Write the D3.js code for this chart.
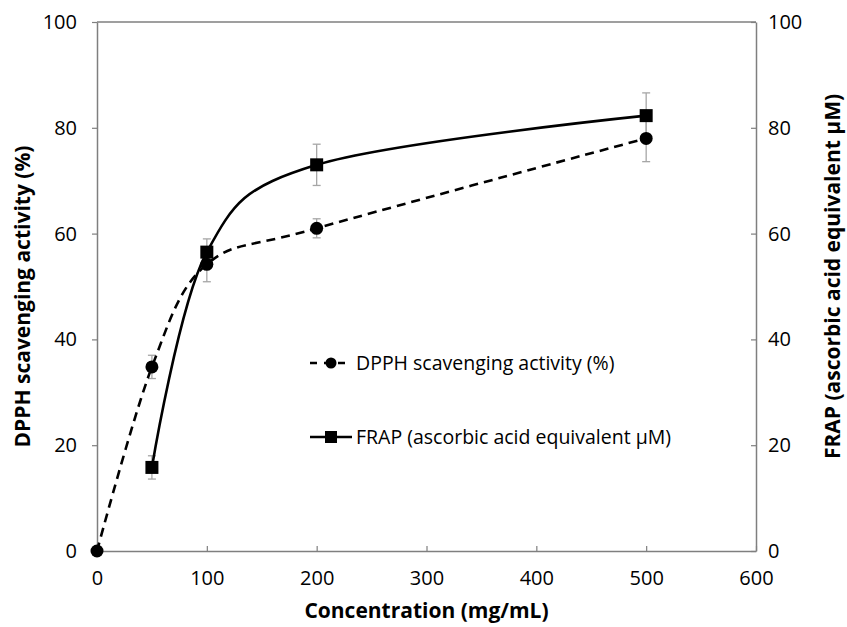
<!DOCTYPE html>
<html>
<head>
<meta charset="utf-8">
<script src="https://cdn.jsdelivr.net/npm/d3@7"></script>
<style>
  body { margin: 0; background: #fff; }
  text { font-family: "Open Sans", "Noto Sans", sans-serif; }
</style>
</head>
<body>
<div id="chart"></div>
<script>
// Concentrations (mg/mL)
const dpphConc = [0, 50, 100, 200, 500];
const dpphValues = [0, 34.8, 54.2, 61, 78];
const dpphErr = [0, 2.2, 3.3, 1.8, 4.4];

const frapConc = [50, 100, 200, 500];
const frapValues = [15.8, 56.5, 73, 82.3];
const frapErr = [2.2, 2.5, 3.9, 4.3];

const xTicks = [0, 100, 200, 300, 400, 500, 600];
const yTicks = [0, 20, 40, 60, 80, 100];

const svgWidth = 847, svgHeight = 627;
const margin = { top: 22, right: 91, bottom: 76, left: 97 };
const width = svgWidth - margin.left - margin.right;
const height = svgHeight - margin.top - margin.bottom;

const svg = d3.select("#chart")
  .append("svg")
  .attr("width", svgWidth)
  .attr("height", svgHeight);

const g = svg.append("g")
  .attr("transform", `translate(${margin.left},${margin.top})`);

const x = d3.scaleLinear().domain([0, 600]).range([0, width]);
const yLeft = d3.scaleLinear().domain([0, 100]).range([height, 0]);
const yRight = d3.scaleLinear().domain([0, 100]).range([height, 0]);

const axisColor = "#7f7f7f";

// top border of plot area
g.append("line")
  .attr("x1", 0).attr("x2", width)
  .attr("y1", 0).attr("y2", 0)
  .attr("stroke", axisColor).attr("stroke-width", 1.5);

// Axes
const xAxis = g.append("g")
  .attr("transform", `translate(0,${height})`)
  .call(d3.axisBottom(x).tickValues(xTicks).tickSizeInner(-5).tickSizeOuter(0).tickPadding(18));

const leftAxis = g.append("g")
  .call(d3.axisLeft(yLeft).tickValues(yTicks).tickSizeInner(5).tickSizeOuter(0).tickPadding(15));

const rightAxis = g.append("g")
  .attr("transform", `translate(${width},0)`)
  .call(d3.axisRight(yRight).tickValues(yTicks).tickSizeInner(-5).tickSizeOuter(0).tickPadding(12));

[xAxis, leftAxis, rightAxis].forEach(a => {
  a.select(".domain").attr("stroke", axisColor).attr("stroke-width", 1.5);
  a.selectAll(".tick line").attr("stroke", axisColor).attr("stroke-width", 1.2);
  a.selectAll(".tick text")
    .attr("fill", "#000")
    .style("font-size", "20px")
    .style("font-family", "'Open Sans', sans-serif");
});
xAxis.selectAll(".tick text").attr("dy", "0.8em");

// Curves (smoothed like the spreadsheet's smooth line)
const lineLeft = d3.line()
  .x(d => x(d[0]))
  .y(d => yLeft(d[1]))
  .curve(d3.curveCardinal.tension(0));

const lineRight = d3.line()
  .x(d => x(d[0]))
  .y(d => yRight(d[1]))
  .curve(d3.curveCardinal.tension(0));

const dpphData = dpphConc.map((c, i) => [c, dpphValues[i], dpphErr[i]]);
const frapData = frapConc.map((c, i) => [c, frapValues[i], frapErr[i]]);

// Error bars
function errorBars(data, scale) {
  const eb = g.append("g");
  data.filter(d => d[2] > 0).forEach(d => {
    const cx = x(d[0]);
    const y1 = scale(d[1] - d[2]);
    const y2 = scale(d[1] + d[2]);
    eb.append("line").attr("x1", cx).attr("x2", cx).attr("y1", y1).attr("y2", y2)
      .attr("stroke", "#a6a6a6").attr("stroke-width", 1.3);
    [y1, y2].forEach(yy => {
      eb.append("line").attr("x1", cx - 4).attr("x2", cx + 4).attr("y1", yy).attr("y2", yy)
        .attr("stroke", "#a6a6a6").attr("stroke-width", 1.3);
    });
  });
}
errorBars(dpphData, yLeft);
errorBars(frapData, yRight);

g.append("path")
  .datum(dpphData)
  .attr("d", lineLeft)
  .attr("fill", "none")
  .attr("stroke", "#000")
  .attr("stroke-width", 2.6)
  .attr("stroke-dasharray", "9,6");

g.append("path")
  .datum(frapData)
  .attr("d", lineRight)
  .attr("fill", "none")
  .attr("stroke", "#000")
  .attr("stroke-width", 2.6);

// Markers
g.selectAll(".dpph-pt")
  .data(dpphData)
  .enter()
  .append("circle")
  .attr("class", "dpph-pt")
  .attr("cx", d => x(d[0]))
  .attr("cy", d => yLeft(d[1]))
  .attr("r", 6.5)
  .attr("fill", "#000");

g.selectAll(".frap-pt")
  .data(frapData)
  .enter()
  .append("rect")
  .attr("class", "frap-pt")
  .attr("x", d => x(d[0]) - 6.5)
  .attr("y", d => yRight(d[1]) - 6.5)
  .attr("width", 13)
  .attr("height", 13)
  .attr("fill", "#000");

// Legend
const legend = svg.append("g").attr("transform", "translate(310,0)");
const leg1y = 363, leg2y = 437;
legend.append("line")
  .attr("x1", 0).attr("x2", 42).attr("y1", leg1y).attr("y2", leg1y)
  .attr("stroke", "#000").attr("stroke-width", 2.6).attr("stroke-dasharray", "7,7");
legend.append("circle").attr("cx", 21).attr("cy", leg1y).attr("r", 5.5).attr("fill", "#000");
legend.append("text")
  .attr("x", 46).attr("y", leg1y).attr("dy", "0.35em")
  .style("font-size", "19.5px")
  .text("DPPH scavenging activity (%)");

legend.append("line")
  .attr("x1", 0).attr("x2", 42).attr("y1", leg2y).attr("y2", leg2y)
  .attr("stroke", "#000").attr("stroke-width", 2.6);
legend.append("rect").attr("x", 15).attr("y", leg2y - 6).attr("width", 12).attr("height", 12).attr("fill", "#000");
legend.append("text")
  .attr("x", 46).attr("y", leg2y).attr("dy", "0.35em")
  .style("font-size", "19.5px")
  .text("FRAP (ascorbic acid equivalent μM)");

// Axis titles
svg.append("text")
  .attr("x", margin.left + width / 2)
  .attr("y", 618)
  .attr("text-anchor", "middle")
  .style("font-size", "21px")
  .style("font-weight", "bold")
  .text("Concentration (mg/mL)");

svg.append("text")
  .attr("transform", `translate(30,${margin.top + height / 2 + 10}) rotate(-90)`)
  .attr("text-anchor", "middle")
  .style("font-size", "21px")
  .style("font-weight", "bold")
  .text("DPPH scavenging activity (%)");

svg.append("text")
  .attr("transform", `translate(840,${margin.top + height / 2 - 10}) rotate(-90)`)
  .attr("text-anchor", "middle")
  .style("font-size", "21px")
  .style("font-weight", "bold")
  .text("FRAP (ascorbic acid equivalent μM)");
</script>
</body>
</html>
